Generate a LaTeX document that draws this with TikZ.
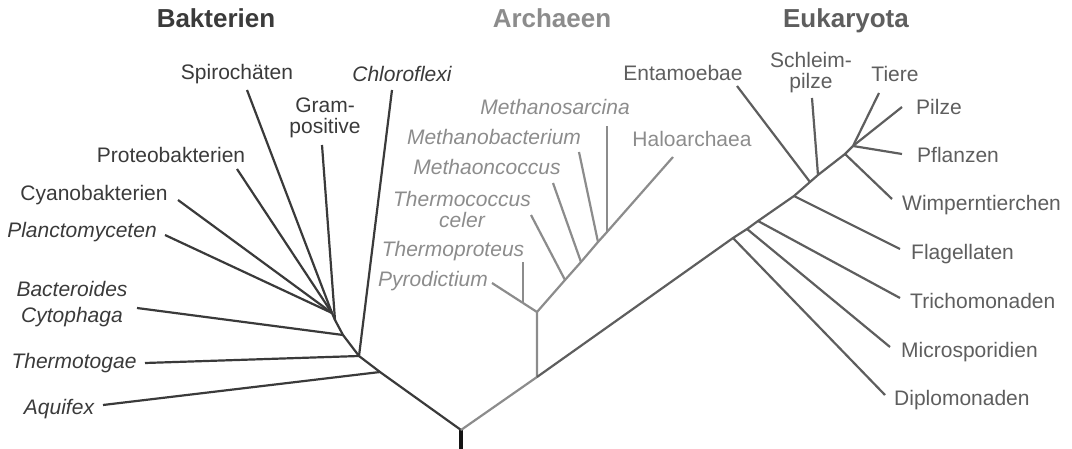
\documentclass[tikz,border=0pt]{standalone}
\usepackage{fontspec}
\setmainfont{Liberation Sans}
\definecolor{bakcol}{HTML}{3A3A3A}
\definecolor{arccol}{HTML}{8C8C8C}
\definecolor{eukcol}{HTML}{5E5E5E}

\begin{document}
\begin{tikzpicture}[
      x=1pt, y=-1pt,
      font=\fontsize{21}{21}\selectfont,
      lab/.style={inner sep=0pt, anchor=base},
      labw/.style={inner sep=0pt, anchor=base west},
      two/.style={inner sep=0pt, align=center},
      head/.style={inner sep=0pt, anchor=base,
                   font=\fontsize{26}{28}\selectfont\bfseries},
      bline/.style={draw=bakcol, line width=2.2pt},
      aline/.style={draw=arccol, line width=2.2pt},
      eline/.style={draw=eukcol, line width=2.2pt},
      trunk/.style={draw=black!92, line width=3.6pt}
    ]
    \useasboundingbox (0,0) rectangle (1072,449);

    % --- Titles ---------------------------------------------------------------
    \node[head, text=bakcol] (hbak) at (216,28) {Bakterien};
    \node[head, text=arccol] (harc) at (552,28) {Archaeen};
    \node[head, text=eukcol] (heuk) at (846,28) {Eukaryota};

    % --- Root -----------------------------------------------------------------
    \coordinate (root) at (461,430);
    \coordinate (foot) at (461,449);
    \draw[trunk] (foot) -- (root);

    % --- Bakterien ------------------------------------------------------------
    \coordinate (bk1) at (380,372);
    \coordinate (bk2) at (359,356);
    \coordinate (bk3) at (343,335);
    \coordinate (bk4) at (335,320);
    \coordinate (bk5) at (332,313);

    \coordinate (aqu-t)   at (103,405);
    \coordinate (thm-t)   at (145,363);
    \coordinate (chl-t)   at (392,90);
    \coordinate (bac-t)   at (137,308);
    \coordinate (gram-t)  at (322,145);
    \coordinate (spi-t)   at (247,90);
    \coordinate (pro-t)   at (237,169);
    \coordinate (cya-t)   at (178,200);
    \coordinate (pla-t)   at (165,235);

    \draw[bline] (root) -- (bk1) -- (bk2) -- (bk3) -- (bk4) -- (bk5);
    \draw[bline] (bk1) -- (aqu-t);
    \draw[bline] (bk2) -- (thm-t);
    \draw[bline] (bk2) -- (chl-t);
    \draw[bline] (bk3) -- (bac-t);
    \draw[bline] (bk4) -- (gram-t);
    \draw[bline] (bk5) -- (spi-t);
    \draw[bline] (bk5) -- (pro-t);
    \draw[bline] (bk5) -- (cya-t);
    \draw[bline] (bk5) -- (pla-t);

    \node[lab, text=bakcol] (spi) at (237,80) {Spirochäten};
    \node[lab, text=bakcol] (chl) at (402,82) {\itshape Chloroflexi};
    \node[two, text=bakcol] (gram) at (325,118) {Gram-\\positive};
    \node[lab, text=bakcol] (pro) at (171,163) {Proteobakterien};
    \node[lab, text=bakcol] (cya) at (94,201) {Cyanobakterien};
    \node[lab, text=bakcol] (pla) at (82,238) {\itshape Planctomyceten};
    \node[two, text=bakcol, font=\fontsize{21}{21}\selectfont\itshape]
      (bac) at (72,304) {Bacteroides\\[5pt]Cytophaga};
    \node[lab, text=bakcol] (thm) at (74,368) {\itshape Thermotogae};
    \node[lab, text=bakcol] (aqu) at (59,414) {\itshape Aquifex};

    % --- Archaeen -------------------------------------------------------------
    \coordinate (ae0) at (537,377);
    \coordinate (ar1) at (537,312);
    \coordinate (ar2) at (523,303);
    \coordinate (ar3) at (565,280);
    \coordinate (ar4) at (581,262);
    \coordinate (ar5) at (598,242);
    \coordinate (ar6) at (607,232);

    \coordinate (pyr-t)  at (492,283);
    \coordinate (tpr-t)  at (523,262);
    \coordinate (tco-t)  at (531,215);
    \coordinate (mco-t)  at (553,183);
    \coordinate (mba-t)  at (579,152);
    \coordinate (msa-t)  at (607,126);
    \coordinate (hal-t)  at (673,157);

    \draw[aline] (root) -- (ae0) -- (ar1) -- (ar2);
    \draw[aline] (ar1) -- (ar3) -- (ar4) -- (ar5) -- (ar6) -- (hal-t);
    \draw[aline] (ar2) -- (pyr-t);
    \draw[aline] (ar2) -- (tpr-t);
    \draw[aline] (ar3) -- (tco-t);
    \draw[aline] (ar4) -- (mco-t);
    \draw[aline] (ar5) -- (mba-t);
    \draw[aline] (ar6) -- (msa-t);

    \node[lab, text=arccol] (msa) at (555,115) {\itshape Methanosarcina};
    \node[lab, text=arccol] (mba) at (494,145) {\itshape Methanobacterium};
    \node[lab, text=arccol] (mco) at (487,175) {\itshape Methaoncoccus};
    \node[two, text=arccol, font=\fontsize{21}{21}\selectfont\itshape]
      (tco) at (462,209) {Thermococcus\\celer};
    \node[lab, text=arccol] (tpr) at (453,257) {\itshape Thermoproteus};
    \node[lab, text=arccol] (pyr) at (433,287) {\itshape Pyrodictium};
    \node[lab, text=arccol] (hal) at (692,147) {Haloarchaea};

    % --- Eukaryota ------------------------------------------------------------
    \coordinate (eu1) at (733,238);
    \coordinate (eu2) at (747,229);
    \coordinate (eu3) at (758,221);
    \coordinate (eu4) at (794,196);
    \coordinate (eu5) at (810,182);
    \coordinate (eu6) at (818,175);
    \coordinate (eu7) at (845,154);
    \coordinate (eu8) at (853,146);

    \coordinate (dip-t) at (885,395);
    \coordinate (mic-t) at (890,347);
    \coordinate (tri-t) at (900,298);
    \coordinate (fla-t) at (900,249);
    \coordinate (ent-t) at (737,86);
    \coordinate (sch-t) at (812,98);
    \coordinate (wim-t) at (892,199);
    \coordinate (tie-t) at (879,93);
    \coordinate (pil-t) at (902,107);
    \coordinate (pfl-t) at (902,154);

    \draw[eline] (ae0) -- (eu1) -- (eu2) -- (eu3) -- (eu4) -- (eu5) -- (eu6)
      -- (eu7) -- (eu8);
    \draw[eline] (eu1) -- (dip-t);
    \draw[eline] (eu2) -- (mic-t);
    \draw[eline] (eu3) -- (tri-t);
    \draw[eline] (eu4) -- (fla-t);
    \draw[eline] (eu5) -- (ent-t);
    \draw[eline] (eu6) -- (sch-t);
    \draw[eline] (eu7) -- (wim-t);
    \draw[eline] (eu8) -- (tie-t);
    \draw[eline] (eu8) -- (pil-t);
    \draw[eline] (eu8) -- (pfl-t);

    \node[lab, text=eukcol] (ent) at (683,81) {Entamoebae};
    \node[two, text=eukcol] (sch) at (811,73) {Schleim-\\pilze};
    \node[lab, text=eukcol] (tie) at (895,82) {Tiere};
    \node[labw, text=eukcol] (pil) at (916,115) {Pilze};
    \node[labw, text=eukcol] (pfl) at (917,163) {Pflanzen};
    \node[labw, text=eukcol] (wim) at (902,211) {Wimperntierchen};
    \node[labw, text=eukcol] (fla) at (911,260) {Flagellaten};
    \node[labw, text=eukcol] (tri) at (910,309) {Trichomonaden};
    \node[labw, text=eukcol] (mic) at (901,357) {Microsporidien};
    \node[labw, text=eukcol] (dip) at (894,405) {Diplomonaden};
  \end{tikzpicture}
\end{document}
